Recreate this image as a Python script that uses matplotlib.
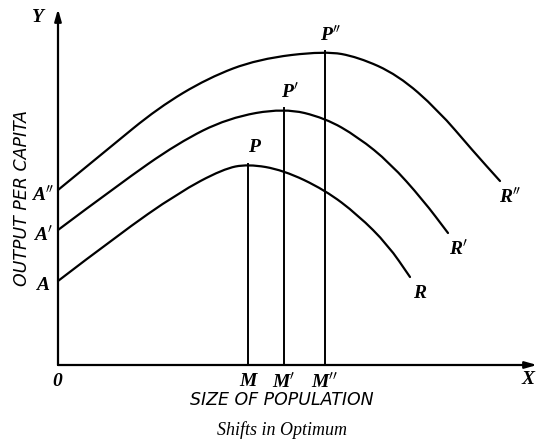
import matplotlib.pyplot as plt
from matplotlib.path import Path
from matplotlib.patches import PathPatch

# curves (x = size of population, y = output per capita)
curveA_x = [0, 60, 120, 165, 190, 225, 267, 300, 330, 352]
curveA_y = [84, 130, 172, 196, 201, 195, 175, 150, 120, 88]

curveA1_x = [0, 60, 120, 170, 226, 267, 300, 332, 365, 390]
curveA1_y = [135, 180, 222, 247, 257, 247, 228, 202, 165, 132]

curveA2_x = [0, 50, 100, 150, 200, 267, 300, 340, 380, 415, 442]
curveA2_y = [175, 216, 257, 287, 306, 314, 308, 290, 255, 214, 184]

optimum_x = [190, 226, 267]        # M, M', M''
optimum_y = [201, 257, 314]        # P, P', P''

curve_labels = ["A", "A$'$", "A$''$"]
end_labels = ["R", "R$'$", "R$''$"]
peak_labels = ["P", "P$'$", "P$''$"]
foot_labels = ["M", "M$'$", "M$''$"]


def smooth_curve(ax, xs, ys):
    pts = list(zip(xs, ys))
    verts = [pts[0]]
    codes = [Path.MOVETO]
    for i in range(1, len(pts) - 1):
        mid = ((pts[i][0] + pts[i + 1][0]) / 2, (pts[i][1] + pts[i + 1][1]) / 2)
        verts += [pts[i], mid]
        codes += [Path.CURVE3, Path.CURVE3]
    verts.append(pts[-1])
    codes.append(Path.LINETO)
    ax.add_patch(PathPatch(Path(verts, codes), fill=False, lw=1.6, color="black",
                           capstyle="round"))


fig = plt.figure(figsize=(5.38, 4.46), dpi=100)
ax = fig.add_axes([0, 0, 1, 1])
ax.set_xlim(-58, 480)
ax.set_ylim(-81, 365)
ax.axis("off")

# axes with arrow heads
ax.annotate("", xy=(0, 356), xytext=(0, 0),
            arrowprops=dict(arrowstyle="-|>,head_length=0.7,head_width=0.2", lw=1.6, color="black",
                            shrinkA=0, shrinkB=0))
ax.annotate("", xy=(479, 0), xytext=(0, 0),
            arrowprops=dict(arrowstyle="-|>,head_length=0.7,head_width=0.2", lw=1.6, color="black",
                            shrinkA=0, shrinkB=0))

serif = dict(family="Liberation Serif", style="italic", weight="bold", color="black")

curves = [(curveA_x, curveA_y), (curveA1_x, curveA1_y), (curveA2_x, curveA2_y)]
for i, (xs, ys) in enumerate(curves):
    smooth_curve(ax, xs, ys)
    # vertical line from the peak to the x axis
    ax.plot([optimum_x[i], optimum_x[i]], [0, optimum_y[i]], color="black", lw=1.4)
    ax.text(-15, ys[0] - 5, curve_labels[i], ha="center", va="center", fontsize=14, **serif)
    ax.text(xs[-1] + 10, ys[-1] - 16, end_labels[i], ha="center", va="center", fontsize=14, **serif)
    ax.text(optimum_x[i] + 6, optimum_y[i] + 16, peak_labels[i], ha="center", va="center",
            fontsize=14, **serif)
    ax.text(optimum_x[i], -17, foot_labels[i], ha="center", va="center", fontsize=14, **serif)

ax.text(-1, -16, "0", ha="center", va="center", fontsize=14, **serif)
ax.text(-20, 347, "Y", ha="center", va="center", fontsize=14, **serif)
ax.text(470, -14, "X", ha="center", va="center", fontsize=14, **serif)

ax.text(-36, 167, "OUTPUT PER CAPITA", rotation=90, ha="center", va="center",
        fontsize=12.5, family="DejaVu Sans", style="italic")
ax.text(224, -35, "SIZE OF POPULATION", ha="center", va="center",
        fontsize=12.5, family="DejaVu Sans", style="italic")
ax.text(224, -65, "Shifts in Optimum", ha="center", va="center",
        fontsize=13, family="Liberation Serif", style="italic")

fig.savefig("out.png", dpi=100)
